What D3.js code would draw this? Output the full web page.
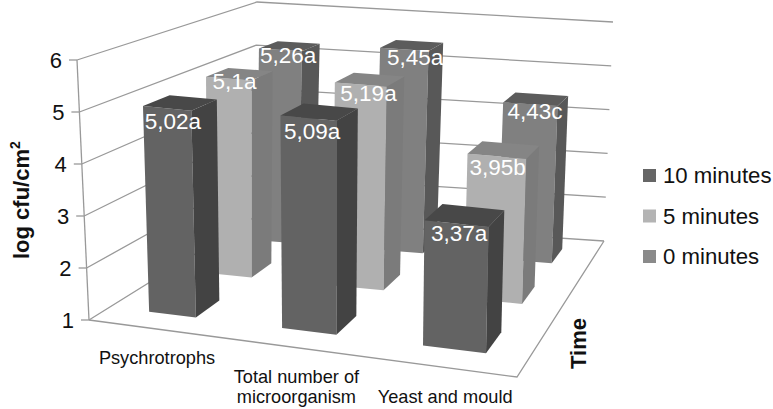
<!DOCTYPE html>
<html>
<head>
<meta charset="utf-8">
<script src="https://cdn.jsdelivr.net/npm/d3@7"></script>
<style>
  html, body { margin: 0; padding: 0; background: #fff; }
  text { font-family: "Liberation Sans", Arial, sans-serif; }
</style>
</head>
<body>
<svg id="chart" width="773" height="409"></svg>
<script>
const categories = ['Psychrotrophs', 'Total number of|microorganism', 'Yeast and mould'];
const seriesNames = ['10 minutes', '5 minutes', '0 minutes'];
const tenMinutes = [5.02, 5.09, 3.37];
const fiveMinutes = [5.1, 5.19, 3.95];
const zeroMinutes = [5.26, 5.45, 4.43];
const tenLetters = ['a', 'a', 'a'];
const fiveLetters = ['a', 'a', 'b'];
const zeroLetters = ['a', 'a', 'c'];
const valueTicks = [1, 2, 3, 4, 5, 6];

const seriesValues = [tenMinutes, fiveMinutes, zeroMinutes];
const seriesLetters = [tenLetters, fiveLetters, zeroLetters];

const frontColors = ['#636363', '#b0b0b0', '#808080'];
const sideColors = ['#434343', '#7b7b7b', '#585858'];
const topColors = ['#484848', '#858585', '#5c5c5c'];
const legendColors = ['#666666', '#b4b4b4', '#8a8a8a'];
// label nudges from the top front edge, [series][category]
const labelOffsets = [
    [[6, 21], [4, 21], [3, 17]],
    [[6, 10], [8, 16], [1, 19]],
    [[8, 13], [11, 16], [5, 15]]
];

const svg = d3.select('#chart');

// corners of the plot box on screen: front-left, front-right, back-right, back-left
const floorQuad = [[89, 320], [517, 377], [604, 241], [253, 218]];
const ceilingQuad = [[77, 60], [523, 102], [613, 22], [257, 2]];

// unit square -> quad
const makeHomography = q => {
    const sx = q[0][0] - q[1][0] + q[2][0] - q[3][0];
    const sy = q[0][1] - q[1][1] + q[2][1] - q[3][1];
    const dx1 = q[1][0] - q[2][0], dx2 = q[3][0] - q[2][0];
    const dy1 = q[1][1] - q[2][1], dy2 = q[3][1] - q[2][1];
    const det = dx1 * dy2 - dx2 * dy1;
    const g = (sx * dy2 - dx2 * sy) / det;
    const h = (dx1 * sy - sx * dy1) / det;
    const a = q[1][0] - q[0][0] + g * q[1][0];
    const b = q[3][0] - q[0][0] + h * q[3][0];
    const d = q[1][1] - q[0][1] + g * q[1][1];
    const e = q[3][1] - q[0][1] + h * q[3][1];
    return (u, v) => {
        const w = g * u + h * v + 1;
        return [(a * u + b * v + q[0][0]) / w, (d * u + e * v + q[0][1]) / w];
    };
};

const floorAt = makeHomography(floorQuad);
const ceilingAt = makeHomography(ceilingQuad);

const x = d3.scaleBand().domain(categories).range([0.01, 1.02]).paddingInner(0.615).paddingOuter(0.3075);
const z = d3.scaleBand().domain(seriesNames).range([0.005, 1.0]).paddingInner(0.6).paddingOuter(0.3);
const y = d3.scaleLinear().domain([1, 6]).range([0, 1]);
// the picture's perspective is flatter than the box corners give, this pulls the middle bars back
const bandStarts = categories.map(x);
const xWarp = d3.scaleLinear()
    .domain(bandStarts)
    .range([bandStarts[0], bandStarts[1] + 0.015, bandStarts[2]]);

// u along categories, v into the depth, value up
const project = (u, v, value) => {
    const low = floorAt(u, v);
    const high = ceilingAt(u, v);
    const t = y(value);
    return [low[0] + (high[0] - low[0]) * t, low[1] + (high[1] - low[1]) * t];
};

const line = d3.line();

// walls and floor
const grid = svg.append('g')
    .attr('fill', 'none')
    .attr('stroke', '#999999')
    .attr('stroke-width', 1.3);

valueTicks.forEach(tick => {
    grid.append('path').attr('d', line([project(0, 0, tick), project(0, 1, tick), project(1, 1, tick)]));
    const start = project(0, 0, tick);
    grid.append('path').attr('d', line([[start[0] - 8, start[1]], start]));
});
grid.append('path').attr('d', line([project(0, 0, 1), project(0, 0, 6)]));
grid.append('path').attr('d', line([project(0, 0, 1), project(1, 0, 1), project(1, 1, 1)]));

// bars, back row first
const bars = [];
seriesNames.forEach((name, s) => {
    categories.forEach((category, c) => {
        bars.push({ s, c, category, name, value: seriesValues[s][c], letter: seriesLetters[s][c] });
    });
});
bars.sort((a, b) => b.s - a.s || a.c - b.c);

const barFaces = d => {
    const u0 = xWarp(x(d.category)), u1 = u0 + x.bandwidth();
    const v0 = z(d.name), v1 = v0 + z.bandwidth();
    return [
        { fill: frontColors[d.s], points: [project(u0, v0, 1), project(u1, v0, 1), project(u1, v0, d.value), project(u0, v0, d.value)] },
        { fill: sideColors[d.s], points: [project(u1, v0, 1), project(u1, v1, 1), project(u1, v1, d.value), project(u1, v0, d.value)] },
        { fill: topColors[d.s], points: [project(u0, v0, d.value), project(u1, v0, d.value), project(u1, v1, d.value), project(u0, v1, d.value)] }
    ];
};

const barGroups = svg.append('g')
    .selectAll('g')
    .data(bars)
    .enter()
    .append('g');

barGroups.selectAll('path')
    .data(barFaces)
    .enter()
    .append('path')
    .attr('d', d => line(d.points) + 'Z')
    .attr('fill', d => d.fill);

const labelAnchor = d => project(xWarp(x(d.category)) + x.bandwidth() / 2, z(d.name), d.value);

barGroups.append('text')
    .attr('x', d => labelAnchor(d)[0] + labelOffsets[d.s][d.c][0])
    .attr('y', d => labelAnchor(d)[1] + labelOffsets[d.s][d.c][1])
    .attr('text-anchor', 'middle')
    .attr('font-size', 22.5)
    .attr('fill', '#ffffff')
    .text(d => String(d.value).replace('.', ',') + d.letter);

// value axis labels
svg.append('g')
    .selectAll('text')
    .data(valueTicks)
    .enter()
    .append('text')
    .attr('x', d => project(0, 0, d)[0] - 15)
    .attr('y', d => project(0, 0, d)[1] + 8)
    .attr('text-anchor', 'end')
    .attr('font-size', 22)
    .attr('fill', '#111111')
    .text(d => d);

// category labels
categories.forEach(category => {
    const anchor = project(xWarp(x(category)) + x.bandwidth() / 2, 0, 1);
    const label = svg.append('text')
        .attr('text-anchor', 'middle')
        .attr('font-size', 18.2)
        .attr('fill', '#111111');
    category.split('|').forEach((part, i) => {
        label.append('tspan')
            .attr('x', anchor[0] + 5)
            .attr('y', anchor[1] + 36 + i * 20)
            .text(part);
    });
});

// axis titles
const yTitle = svg.append('text')
    .attr('transform', 'translate(29,259) rotate(-90)')
    .attr('font-size', 22)
    .attr('font-weight', 'bold')
    .attr('fill', '#111111')
    .text('log cfu/cm');
yTitle.append('tspan')
    .attr('dy', -9)
    .attr('font-size', 14)
    .text('2');

svg.append('text')
    .attr('transform', 'translate(586,369) rotate(-90)')
    .attr('font-size', 22)
    .attr('font-weight', 'bold')
    .attr('fill', '#111111')
    .text('Time');

// legend
const legendY = d3.scalePoint().domain(seriesNames).range([183, 264]);
const legend = svg.append('g')
    .selectAll('g')
    .data(seriesNames)
    .enter()
    .append('g');

legend.append('rect')
    .attr('x', 643)
    .attr('y', d => legendY(d) - 14)
    .attr('width', 13)
    .attr('height', 13)
    .attr('fill', (d, i) => legendColors[i]);

legend.append('text')
    .attr('x', 663)
    .attr('y', d => legendY(d))
    .attr('font-size', 22.2)
    .attr('fill', '#111111')
    .text(d => d);
</script>
</body>
</html>
